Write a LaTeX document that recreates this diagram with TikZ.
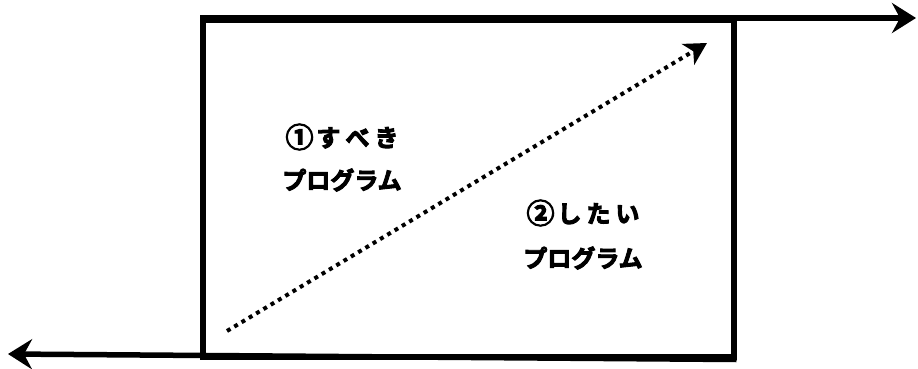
\documentclass[tikz,border=0pt]{standalone}
\usepackage{fontspec}
\newfontfamily\cjk{Noto Sans CJK JP}[BoldFont={Noto Sans CJK JP Bold},BoldFeatures={FakeBold=4}]
\usetikzlibrary{arrows.meta}
\newcommand{\mycirc}[1]{{\fontsize{28pt}{28pt}\selectfont\raisebox{-1pt}{#1}}}
\begin{document}
\begin{tikzpicture}[x=1pt,y=-1pt,
  frame/.style={line width=5.5pt},
  flow/.style={line width=5.5pt,-{Stealth[length=24pt,width=30pt,inset=8pt]}},
  diag/.style={line width=4pt,dash pattern=on 4pt off 4.5pt,-{Stealth[length=22pt,width=24pt,inset=6pt]}},
  lbl/.style={font=\cjk\bfseries\fontsize{24pt}{26pt}\selectfont,inner sep=0pt,text=black}]
\useasboundingbox (0,0) rectangle (918,369);
\node[draw,frame,minimum width=531pt,minimum height=336pt,inner sep=0pt,anchor=north west] (box) at (200,18) {};
\coordinate (topend) at (916,18);
\coordinate (botend) at (8,354);
\coordinate (ds) at (227,331);
\coordinate (de) at (707,43);
\draw[flow] (box.north west) -- (topend);
\draw[flow] (box.south east) -- (botend);
\draw[diag] (ds) -- (de);
\node[lbl] (a1) at (342,137) {\mycirc{①}\kern3pt す\kern5pt べ\kern5pt き};
\node[lbl] (a2) at (342,180) {プログラム};
\node[lbl] (b1) at (583,213) {\mycirc{②}\kern3pt し\kern5pt た\kern5pt い};
\node[lbl] (b2) at (583,258) {プログラム};
\end{tikzpicture}
\end{document}
